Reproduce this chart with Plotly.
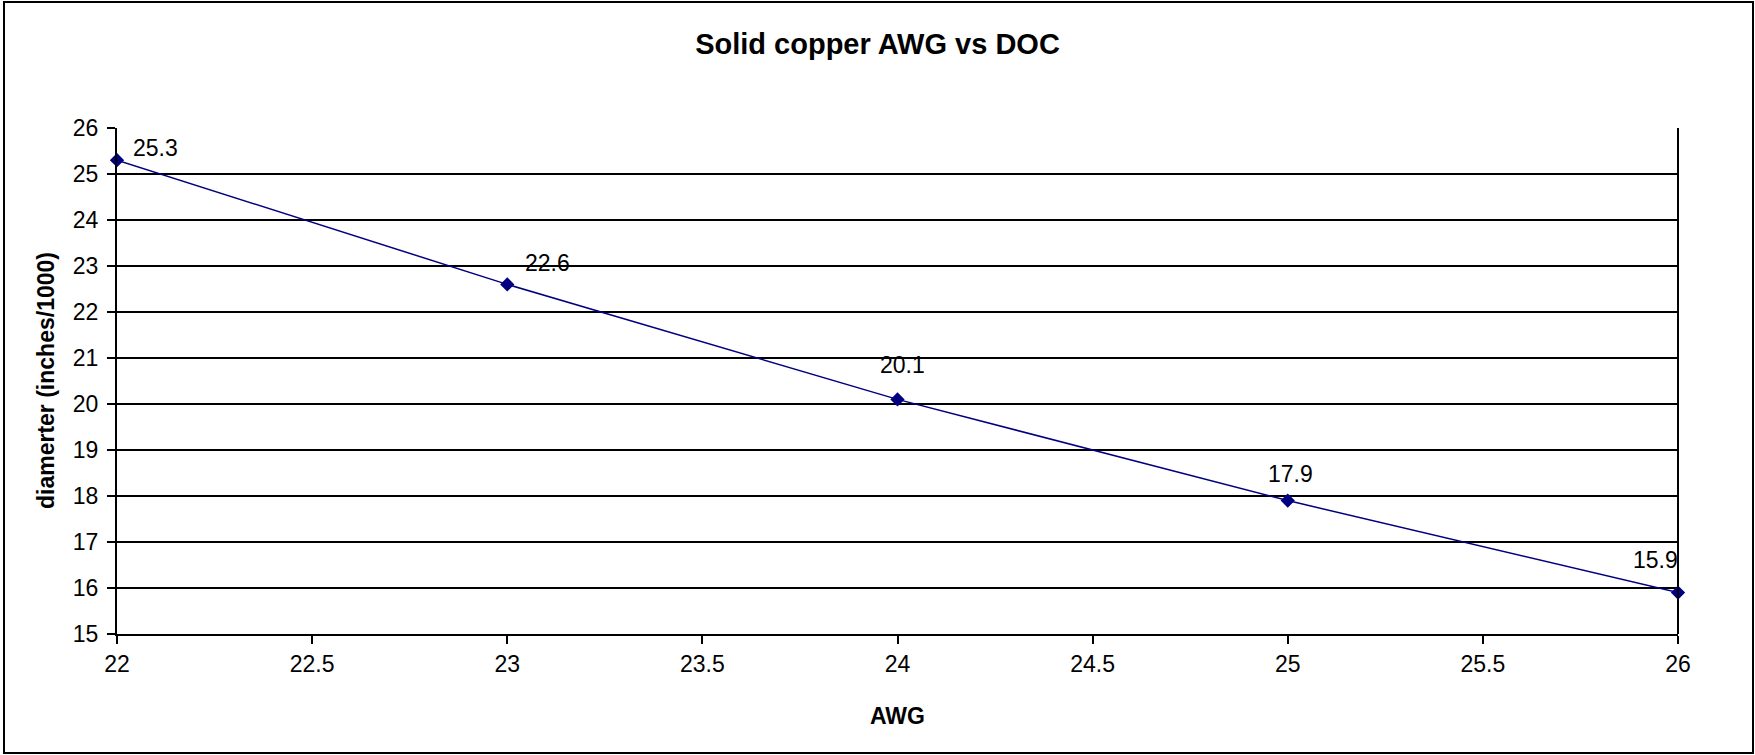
import plotly.graph_objects as go

# AWG vs diameter of conductor (solid copper)
awg = [22, 23, 24, 25, 26]
diameter = [25.3, 22.6, 20.1, 17.9, 15.9]
x_ticks = [22, 22.5, 23, 23.5, 24, 24.5, 25, 25.5, 26]
y_ticks = list(range(15, 27))

W, H = 1755, 755
ML, MR, MT, MB = 117, 77, 128, 121
pw, ph = W - ML - MR, H - MT - MB

navy = '#000080'
font = 'Liberation Sans, Arial, sans-serif'

fig = go.Figure()
fig.add_trace(go.Scatter(
    x=awg, y=diameter, mode='lines+markers',
    line=dict(color=navy, width=1.5),
    marker=dict(symbol='diamond', size=11, color=navy),
    showlegend=False, cliponaxis=False,
))

# data labels (placed like the original sheet)
label_shifts = [(38, 12), (40, 21), (5, 34), (3, 27), (-23, 33)]
for xv, yv, (dx, dy) in zip(awg, diameter, label_shifts):
    fig.add_annotation(x=xv, y=yv, text=f'{yv:.1f}', showarrow=False,
                       xshift=dx, yshift=dy, font=dict(size=23, color='black', family=font))

# y axis title
fig.add_annotation(xref='paper', yref='paper', x=(46 - ML) / pw, y=0.5, xanchor='center', yanchor='middle',
                   text='<b>diamerter (inches/1000)</b>',
                   textangle=-90, showarrow=False, font=dict(size=23, color='black', family=font))

# chart border
fig.add_shape(type='rect', xref='paper', yref='paper',
              x0=(4 - ML) / pw, x1=(1753 - ML) / pw,
              y0=(H - MB - 753) / ph, y1=(H - MB - 2) / ph,
              line=dict(color='black', width=2), fillcolor='rgba(0,0,0,0)')

fig.update_layout(
    width=W, height=H,
    margin=dict(l=ML, r=MR, t=MT, b=MB),
    paper_bgcolor='white', plot_bgcolor='white',
    font=dict(family=font, color='black', size=23),
    title=dict(text='<b>Solid copper AWG vs DOC</b>', x=0.5, xanchor='center',
               y=1 - 44 / H, yanchor='middle', font=dict(size=29, family=font, color='black')),
)
fig.update_xaxes(range=[22, 26], tickvals=x_ticks, ticktext=[f'{v:g}' for v in x_ticks],
                 showgrid=False, zeroline=False, showline=True, linecolor='black', linewidth=2,
                 ticks='outside', ticklen=8, tickcolor='black', tickwidth=2,
                 tickfont=dict(size=23), mirror=False,
                 title=dict(text='<b>AWG</b>', font=dict(size=23), standoff=32))
fig.update_yaxes(range=[15, 26], tickvals=y_ticks,
                 showgrid=True, gridcolor='black', gridwidth=1.5, zeroline=False,
                 showline=True, linecolor='black', linewidth=2,
                 ticks='outside', ticklen=8, tickcolor='black', tickwidth=2,
                 ticklabelstandoff=4, tickfont=dict(size=23))
# right edge line of plot area
fig.add_shape(type='line', xref='paper', yref='paper', x0=1, x1=1, y0=0, y1=1,
              line=dict(color='black', width=2))

fig.write_html('out.html', config={'displayModeBar': False},
               post_script="document.body.style.margin='0';")
